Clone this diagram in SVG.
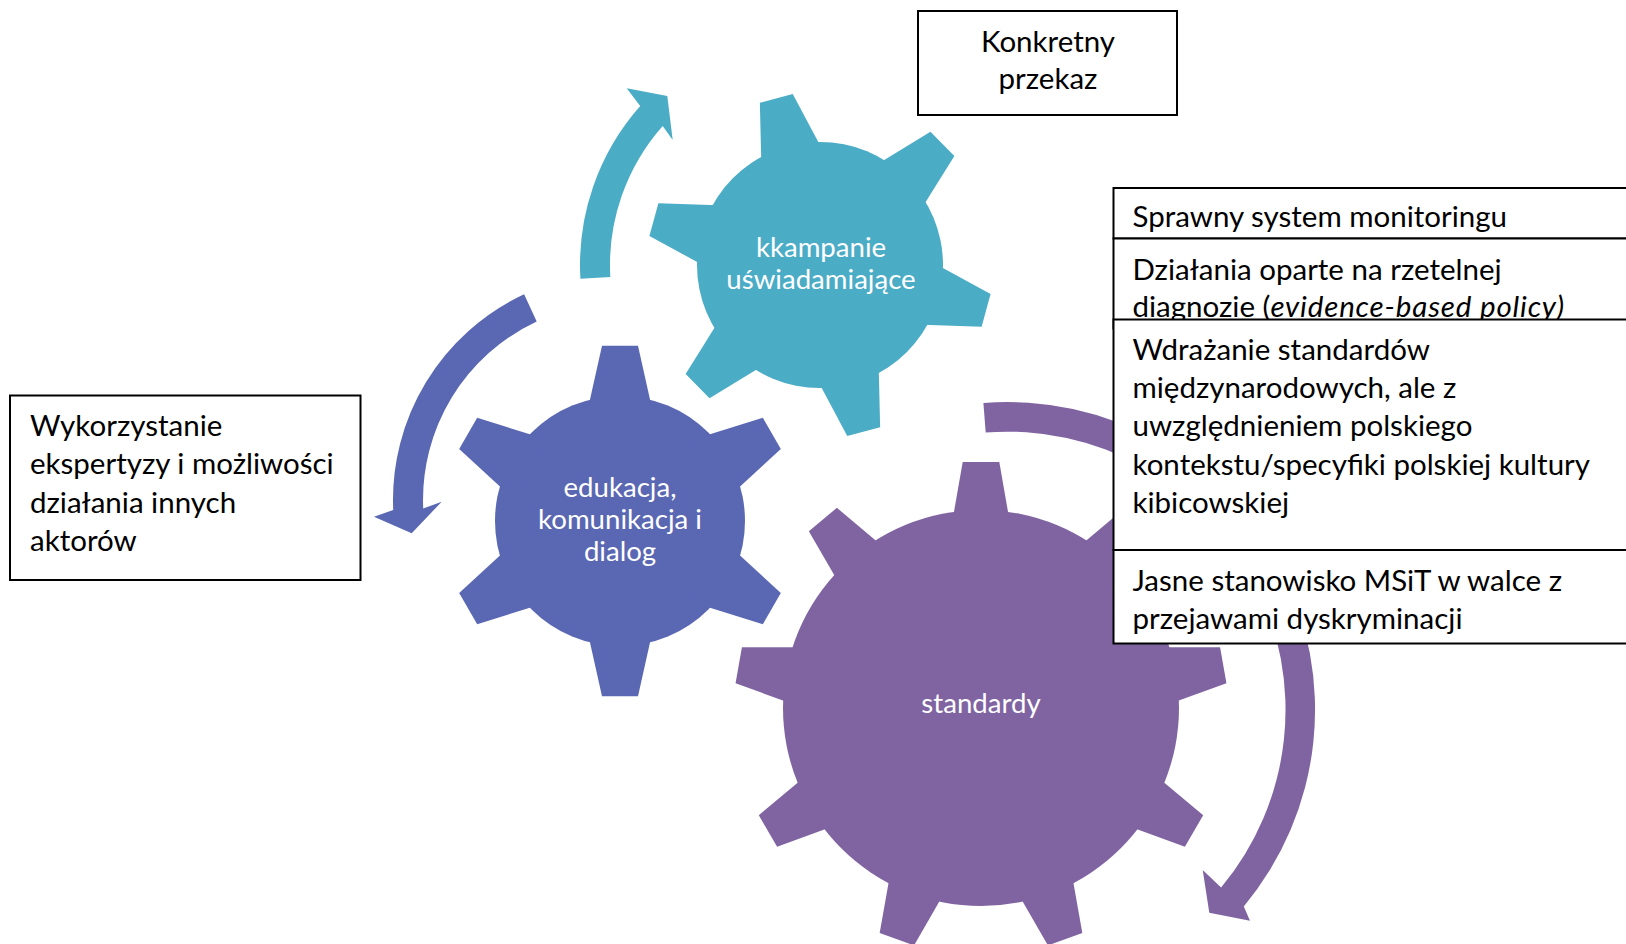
<svg xmlns="http://www.w3.org/2000/svg" xmlns:xlink="http://www.w3.org/1999/xlink" width="1626" height="944" viewBox="0 0 1626 944">
<style>
  .teal{fill:#4BACC6}
  .blue{fill:#5A67B3}
  .purple{fill:#8064A2}
  .glabel{font-family:Lato,"Liberation Sans",sans-serif;font-size:27.6px;fill:#FFFFFF;text-anchor:middle}
  .box{fill:#FFFFFF;stroke:#000000;stroke-width:2}
  .btext{font-family:Lato,"Liberation Sans",sans-serif;font-size:29.5px;fill:#000000}
</style>
<defs>
  <polygon id="toothT" points="-17,-172.2 17,-172.2 34.1,-100 -34.1,-100"/>
  <polygon id="toothB" points="-18,-175.3 18,-175.3 34.8,-100 -34.8,-100"/>
  <polygon id="toothP" points="-18.3,-246 18.3,-246 31.6,-170 -31.6,-170"/>
</defs>
<g id="connectors">
  <path id="arrow-teal" class="teal" d="M610.35,277.1 L580.4,278.8 A240,240 0 0 1 640.2,106 L626.7,88.3 L667.3,96 L672.7,140 L662.7,125.9 A210,210 0 0 0 610.35,277.1 Z"/>
  <path id="arrow-blue" class="blue" d="M536.7,321.5 L524.1,294.3 A227,227 0 0 0 393.2,509.9 L374,516.7 L411.7,533.3 L441.7,501.7 L423.2,508.6 A197,197 0 0 1 536.7,321.5 Z"/>
  <path id="arrow-purple" class="purple" d="M985.7,432.5 L983.4,403 A307.5,307.5 0 0 1 1243.8,906.4 L1250,920.7 L1209.3,912.7 L1202.7,870 L1221.1,887.6 A278,278 0 0 0 985.7,432.5 Z"/>
</g>
<g id="gear-kampanie" class="teal">
  <g transform="translate(820,265)">
    <circle r="123"/>
    <use xlink:href="#toothT" transform="rotate(-14.7)"/>
    <use xlink:href="#toothT" transform="rotate(45.3)"/>
    <use xlink:href="#toothT" transform="rotate(105.3)"/>
    <use xlink:href="#toothT" transform="rotate(165.3)"/>
    <use xlink:href="#toothT" transform="rotate(225.3)"/>
    <use xlink:href="#toothT" transform="rotate(285.3)"/>
  </g>
  <text class="glabel" x="821" y="256.5">kkampanie</text>
  <text class="glabel" x="821" y="289">uświadamiające</text>
</g>
<g id="gear-edukacja" class="blue">
  <g transform="translate(620,521)">
    <circle r="125"/>
    <use xlink:href="#toothB"/>
    <use xlink:href="#toothB" transform="rotate(60)"/>
    <use xlink:href="#toothB" transform="rotate(120)"/>
    <use xlink:href="#toothB" transform="rotate(180)"/>
    <use xlink:href="#toothB" transform="rotate(240)"/>
    <use xlink:href="#toothB" transform="rotate(300)"/>
  </g>
  <text class="glabel" x="620" y="496.5">edukacja,</text>
  <text class="glabel" x="620" y="529">komunikacja i</text>
  <text class="glabel" x="620" y="561">dialog</text>
</g>
<g id="gear-standardy" class="purple">
  <g transform="translate(981,708)">
    <circle r="198"/>
    <use xlink:href="#toothP"/>
    <use xlink:href="#toothP" transform="rotate(40)"/>
    <use xlink:href="#toothP" transform="rotate(80)"/>
    <use xlink:href="#toothP" transform="rotate(120)"/>
    <use xlink:href="#toothP" transform="rotate(160)"/>
    <use xlink:href="#toothP" transform="rotate(200)"/>
    <use xlink:href="#toothP" transform="rotate(240)"/>
    <use xlink:href="#toothP" transform="rotate(280)"/>
    <use xlink:href="#toothP" transform="rotate(320)"/>
  </g>
  <text class="glabel" x="981" y="713">standardy</text>
</g>
<g id="box-konkretny">
  <rect class="box" x="918" y="11" width="259" height="104"/>
  <text class="btext" x="1048" y="52" text-anchor="middle">Konkretny</text>
  <text class="btext" x="1048" y="88.5" text-anchor="middle">przekaz</text>
</g>
<g id="box-wykorzystanie">
  <rect class="box" x="10" y="395.5" width="350.5" height="184.5"/>
  <text class="btext" x="30" y="436">Wykorzystanie</text>
  <text class="btext" x="30" y="474.4">ekspertyzy i możliwości</text>
  <text class="btext" x="30" y="512.8">działania innych</text>
  <text class="btext" x="30" y="551.2">aktorów</text>
</g>
<g id="box-monitoring">
  <rect class="box" x="1113.5" y="188" width="530" height="50.5"/>
  <text class="btext" x="1132.5" y="226.5">Sprawny system monitoringu</text>
</g>
<g id="box-dzialania">
  <rect class="box" x="1113.5" y="238.5" width="530" height="90"/>
  <text class="btext" x="1132.5" y="280">Działania oparte na rzetelnej</text>
  <text class="btext" x="1132.5" y="316.5">diagnozie (<tspan font-style="italic" letter-spacing="0.85">evidence-based policy)</tspan></text>
</g>
<g id="box-wdrazanie">
  <rect class="box" x="1113.5" y="319.5" width="530" height="230.5"/>
  <text class="btext" x="1132.5" y="360">Wdrażanie standardów</text>
  <text class="btext" x="1132.5" y="398.2">międzynarodowych, ale z</text>
  <text class="btext" x="1132.5" y="436.4">uwzględnieniem polskiego</text>
  <text class="btext" x="1132.5" y="474.6">kontekstu/specyfiki polskiej kultury</text>
  <text class="btext" x="1132.5" y="512.8">kibicowskiej</text>
</g>
<g id="box-jasne">
  <rect class="box" x="1113.5" y="550" width="530" height="93.5"/>
  <text class="btext" x="1132.5" y="591">Jasne stanowisko MSiT w walce z</text>
  <text class="btext" x="1132.5" y="629">przejawami dyskryminacji</text>
</g>
</svg>
